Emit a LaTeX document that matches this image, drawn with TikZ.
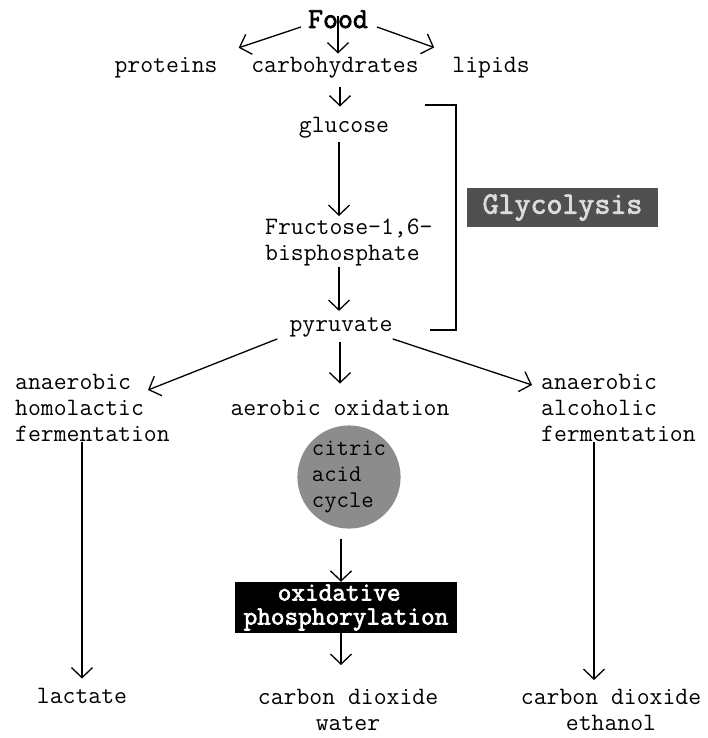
\documentclass[tikz,border=0pt]{standalone}
\usepackage{fontspec}
\newfontfamily\monobold[FakeBold=2.5]{Latin Modern Mono}
\usetikzlibrary{arrows.meta,calc}
\definecolor{glyfill}{HTML}{505050}
\definecolor{glytext}{HTML}{DCDCDC}
\definecolor{cacfill}{HTML}{8C8C8C}
\begin{document}
\begin{tikzpicture}[x=1pt,y=-1pt,
  font=\ttfamily\fontsize{25}{26}\selectfont,
  arr/.style={-{Straight Barb[length=10pt,width=21pt,line width=1.3pt]}, line width=1.3pt},
  txt/.style={inner sep=0pt, anchor=base},
  mtxt/.style={inner sep=0pt, align=left, anchor=north west},
  ctxt/.style={inner sep=0pt, align=center, anchor=north}]
\useasboundingbox (0,0) rectangle (708,738);
% text nodes
\node[txt,font=\monobold\fontsize{29}{26}\selectfont] (food) at (338,28) {Food};
\node[txt] (prot) at (166,73) {proteins};
\node[txt] (carb) at (335,73) {carbohydrates};
\node[txt] (lip) at (491,73) {lipids};
\node[txt] (gluc) at (344,133) {glucose};
\node[mtxt] (fru) at (265,219) {Fructose-1,6-\\bisphosphate};
\node[txt] (pyr) at (341,331) {pyruvate};
\node[mtxt] (homo) at (15,374) {anaerobic\\homolactic\\fermentation};
\node[txt] (aer) at (340,415) {aerobic oxidation};
\node[mtxt] (alc) at (541,374) {anaerobic\\alcoholic\\fermentation};
\node[circle, fill=cacfill, minimum size=102pt, inner sep=0pt, align=left,
      font=\ttfamily\fontsize{24}{26}\selectfont] (cac) at (349,477) {citric\\acid\\cycle};
\node[fill=black, text=white, minimum width=222pt, minimum height=51pt, inner sep=0pt,
      align=center, font=\monobold\fontsize{26.5}{24}\selectfont] (ox) at (346,607.5)
      {oxidative\hphantom{x}\\phosphorylation};
\node[txt] (lact) at (82,703) {lactate};
\node[ctxt] (co2w) at (348,689) {carbon dioxide\\water};
\node[ctxt] (co2e) at (611,689) {carbon dioxide\\ethanol};
\node[fill=glyfill, text=glytext, minimum width=191pt, minimum height=39pt, inner sep=0pt,
      font=\monobold\fontsize{31}{30}\selectfont] (glyc) at (562.5,207.5) {Glycolysis};
% bracket
\coordinate (b1) at (425,105);
\coordinate (b2) at (456,105);
\coordinate (b3) at (456,330);
\coordinate (b4) at (430,330);
\draw[line width=1.3pt] (b1) -- (b2) -- (b3) -- (b4);
% connectors
\draw[arr] ($(food.base west)+(-7,-1)$) -- ($(prot.north east)+(21,-10)$);
\draw[arr] ($(food.south)+(0,-12)$) -- ($(carb.north)+(3,-4)$);
\draw[arr] ($(food.base east)+(9,-1)$) -- ($(lip.north west)+(-18,-10)$);
\draw[arr] ($(gluc.north |- carb.south)+(-4,8)$) -- ($(gluc.north)+(-4,-11)$);
\draw[arr] ($(gluc.south)+(-5,3)$) -- ($(gluc.south |- fru.north)+(-5,-3)$);
\draw[arr] ($(gluc.south |- fru.south)+(-5,0)$) -- ($(pyr.north)+(-2,-6)$);
\draw[arr] ($(pyr.south west)+(-12,2)$) -- ($(homo.north west)+(133,16)$);
\draw[arr] ($(pyr.south)+(-1,5)$) -- ($(aer.north)+(0,-16)$);
\draw[arr] ($(pyr.south east)+(0,2)$) -- ($(alc.north west)+(-9,11)$);
\draw[arr] ($(cac.south)+(-8,10)$) -- ($(ox.north)+(-5,0)$);
\draw[arr] ($(ox.south)+(-5,0)$) -- ($(co2w.north)+(-7,-24)$);
\draw[arr] (lact.north |- homo.south) -- ($(lact.north)+(0,-9)$);
\draw[arr] ($(co2e.north |- alc.south)+(-17,0)$) -- ($(co2e.north)+(-17,-9)$);
\end{tikzpicture}
\end{document}
